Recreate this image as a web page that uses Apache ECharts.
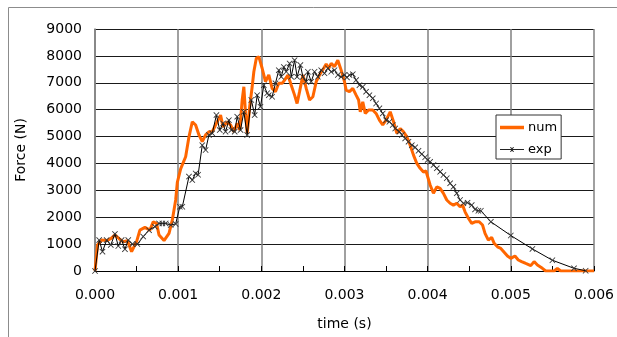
<!DOCTYPE html>
<html>
<head>
<meta charset="utf-8">
<script src="https://cdn.jsdelivr.net/npm/echarts@6/dist/echarts.min.js"></script>
<style>
html,body{margin:0;padding:0;background:#fff;}
#chart{width:617px;height:337px;}
</style>
</head>
<body>
<div id="chart"></div>
<script>
// time (s) and force (N) for the numerical curve
var numTime = [0,0.00003,0.00008,0.00014,0.00019,0.00024,0.00029,0.00034,0.00039,0.00044,0.0005,0.00054,0.0006,0.00066,0.0007,0.00074,0.00077,0.00083,0.00089,0.00093,0.00097,0.00099,0.00103,0.00109,0.00113,0.00117,0.00121,0.00125,0.00129,0.00133,0.00137,0.00141,0.00145,0.00148,0.00151,0.00154,0.00159,0.00163,0.00167,0.00171,0.00174,0.00177,0.00179,0.00181,0.00183,0.00186,0.00189,0.00191,0.00194,0.00197,0.00201,0.00205,0.00209,0.00213,0.00217,0.00221,0.00225,0.00228,0.00232,0.00236,0.0024,0.00243,0.00246,0.0025,0.00254,0.00258,0.00262,0.00266,0.0027,0.00275,0.00278,0.00281,0.00284,0.00288,0.00292,0.00296,0.003,0.00302,0.00306,0.0031,0.00314,0.00317,0.00319,0.00322,0.00325,0.00329,0.00334,0.00338,0.00342,0.00346,0.0035,0.00355,0.00359,0.00363,0.00367,0.00371,0.00375,0.00379,0.00383,0.00387,0.00391,0.00395,0.00398,0.00403,0.00407,0.00411,0.00415,0.00419,0.00423,0.00427,0.00431,0.00435,0.00439,0.00442,0.00445,0.00449,0.00453,0.00457,0.00462,0.00466,0.00469,0.00473,0.00477,0.0048,0.00484,0.00488,0.00492,0.00496,0.005,0.00505,0.00509,0.00513,0.00518,0.00524,0.00528,0.00532,0.00538,0.00542,0.00552,0.00556,0.0056,0.006];
var numForce = [0,970,1150,1130,1200,1340,1200,1090,1130,720,1090,1520,1620,1520,1830,1770,1340,1130,1400,1900,2640,3300,3800,4250,4990,5550,5430,5060,4810,5060,5180,5180,5430,5610,5800,5360,5550,5430,5180,5490,5240,6360,6850,5860,5120,6110,6850,7410,7910,7970,7540,7040,7290,6790,6670,6980,6980,7100,7290,6910,6540,6230,6670,7290,6790,6360,6480,7040,7290,7540,7700,7540,7720,7600,7840,7470,7040,6730,6670,6790,6540,6360,5920,6290,5860,5990,5990,5860,5610,5430,5610,5920,5550,5120,5300,5180,4990,4680,4310,4000,3820,3680,3720,3200,2890,3130,3070,2890,2640,2520,2450,2520,2390,2450,2200,1960,1770,1830,1830,1710,1400,1150,1250,1030,900,840,700,560,470,560,410,350,280,200,350,220,100,0,0,100,0,0];

// time (s) and force (N) for the experimental curve
var expTime = [0,0.00005,0.00009,0.00014,0.00019,0.00024,0.00028,0.00032,0.00036,0.0004,0.00045,0.00051,0.00058,0.00065,0.00072,0.00077,0.00081,0.00085,0.00091,0.00097,0.00102,0.00105,0.00113,0.00117,0.00121,0.00124,0.00129,0.00133,0.00137,0.00141,0.00146,0.0015,0.00154,0.00157,0.00161,0.00164,0.00168,0.00171,0.00175,0.00179,0.00183,0.00188,0.00192,0.00195,0.00199,0.00203,0.00207,0.00209,0.00213,0.00217,0.00221,0.00224,0.00227,0.0023,0.00234,0.00236,0.0024,0.00243,0.00247,0.0025,0.00254,0.00256,0.0026,0.00264,0.00268,0.00272,0.00276,0.0028,0.00284,0.00288,0.00292,0.00296,0.003,0.00303,0.00306,0.0031,0.00314,0.00318,0.00322,0.00326,0.0033,0.00334,0.00338,0.00342,0.00346,0.0035,0.00354,0.00358,0.00361,0.00366,0.00369,0.00373,0.00377,0.00381,0.00385,0.00389,0.00393,0.00397,0.004,0.00403,0.00407,0.00411,0.00415,0.00419,0.00423,0.00427,0.00431,0.00435,0.00439,0.00443,0.00448,0.00453,0.00457,0.00461,0.00464,0.00476,0.005,0.00526,0.0055,0.00576,0.0059];
var expForce = [0,1150,720,1150,970,1380,930,1150,810,1150,1000,1000,1280,1520,1650,1770,1770,1770,1710,1750,2390,2390,3510,3380,3630,3580,4680,4500,5060,5120,5800,5240,5490,5180,5610,5240,5180,5740,5240,5920,5060,6360,5800,6540,6110,6910,6610,6540,6480,6980,7470,7220,7590,7410,7720,7220,7840,7220,7660,7220,7040,7410,7040,7410,7220,7470,7350,7540,7410,7470,7290,7220,7290,7200,7290,7320,7100,6910,6850,6670,6540,6420,6230,6050,5860,5610,5550,5430,5300,5180,5060,4930,4810,4680,4600,4470,4350,4230,4130,4060,3940,3820,3690,3570,3450,3260,3130,2890,2640,2520,2540,2450,2290,2240,2240,1830,1320,820,400,100,10];

var seriesNames = ['num', 'exp'];
var xTickValues = [0, 0.001, 0.002, 0.003, 0.004, 0.005, 0.006];
var yTickValues = [0, 1000, 2000, 3000, 4000, 5000, 6000, 7000, 8000, 9000];

function zip(a, b) { return a.map(function (v, i) { return [v, b[i]]; }); }

var FONT = 'DejaVu Sans';
var chart = echarts.init(document.getElementById('chart'), null, {renderer: 'canvas'});
chart.setOption({
  animation: false,
  backgroundColor: '#fff',
  graphic: [{
    type: 'rect', silent: true, z: 0,
    shape: {x: 8.5, y: 7.5, width: 700, height: 400},
    style: {fill: 'none', stroke: '#8c8c8c', lineWidth: 1}
  }],
  grid: {left: 95, right: 19, top: 29, bottom: 66, containLabel: false},
  legend: {
    orient: 'vertical', left: 496, top: 115,
    backgroundColor: '#fff', borderColor: '#333', borderWidth: 1,
    padding: [6, 4, 3, 4], itemGap: 9, itemWidth: 24, itemHeight: 14,
    textStyle: {fontFamily: FONT, fontSize: 13, color: '#000', padding: [0, 0, 0, -1]},
    data: [
      {name: seriesNames[0], icon: 'path://M0,0H24V3.5H0Z', itemStyle: {color: '#FF6600', borderWidth: 0}},
      {name: seriesNames[1], icon: 'path://M0,4.5H24V5.5H0Z M10,2.5L11,2.5L14,7.5L13,7.5Z M13,2.5L14,2.5L11,7.5L10,7.5Z', itemStyle: {color: '#222', borderWidth: 0}}
    ]
  },
  xAxis: {
    type: 'value', min: xTickValues[0], max: xTickValues[xTickValues.length - 1], interval: 0.001,
    name: 'time (s)', nameLocation: 'middle', nameGap: 46,
    nameTextStyle: {fontFamily: FONT, fontSize: 14, color: '#000'},
    axisLine: {show: true, onZero: false, lineStyle: {color: '#000', width: 1}},
    axisTick: {show: true, inside: true, length: 5, lineStyle: {color: '#000'}},
    minorTick: {show: true, splitNumber: 2, length: 5, lineStyle: {color: '#000'}},
    axisLabel: {fontFamily: FONT, fontSize: 14, color: '#000', margin: 17, showMaxLabel: true,
      formatter: function (v) { return v.toFixed(3); }},
    splitLine: {show: true, lineStyle: {color: '#808080', width: 1.5}}
  },
  yAxis: {
    type: 'value', min: yTickValues[0], max: yTickValues[yTickValues.length - 1], interval: 1000,
    name: 'Force (N)', nameLocation: 'middle', nameGap: 67, nameRotate: 90,
    nameTextStyle: {fontFamily: FONT, fontSize: 14, color: '#000'},
    axisLine: {show: true, lineStyle: {color: '#808080', width: 1.5}},
    axisTick: {show: false},
    axisLabel: {fontFamily: FONT, fontSize: 14, color: '#000', margin: 13,
      formatter: function (v) { return String(v); }},
    splitLine: {show: true, lineStyle: {color: '#1a1a1a', width: 1}}
  },
  series: [
    {
      name: seriesNames[0], type: 'line', data: zip(numTime, numForce),
      symbol: 'none', lineStyle: {color: '#FF6600', width: 3}, itemStyle: {color: '#FF6600'}, z: 2
    },
    {
      name: seriesNames[1], type: 'line', data: zip(expTime, expForce),
      symbol: 'path://M0,1L1,0L5,4L9,0L10,1L6,5L10,9L9,10L5,6L1,10L0,9L4,5Z', symbolSize: 6,
      showAllSymbol: true,
      lineStyle: {color: '#000', width: 1}, itemStyle: {color: '#333', borderWidth: 0}, z: 3
    }
  ]
});
</script>
</body>
</html>
